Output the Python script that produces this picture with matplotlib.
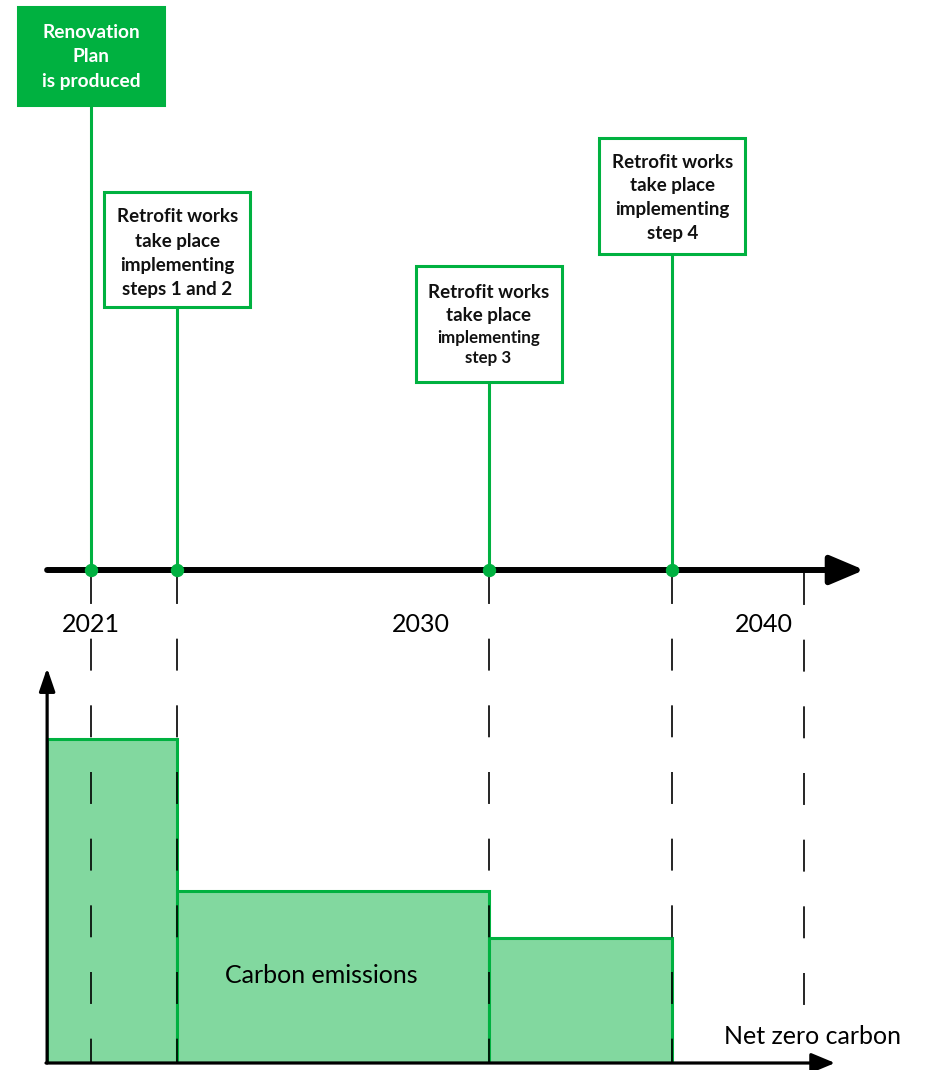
import matplotlib
matplotlib.use("Agg")
import matplotlib.pyplot as plt
from matplotlib.patches import Rectangle

plt.rcParams['font.family'] = ['Lato', 'DejaVu Sans']
plt.rcParams['lines.scale_dashes'] = False

# data
event_years = [2021, 2023.3, 2031.6, 2036.5]
event_labels = [
    ["Renovation", "Plan", "is produced"],
    ["Retrofit works", "take place", "implementing", "steps 1 and 2"],
    ["Retrofit works", "take place", "implementing", "step 3"],
    ["Retrofit works", "take place", "implementing", "step 4"],
]
tick_years = [2021, 2030, 2040]
tick_labels = ["2021", "2030", "2040"]
net_zero_year = 2040
period_start = [2019.83, 2023.3, 2031.6]
period_end = [2023.3, 2031.6, 2036.5]
emissions = [100, 53, 38.6]

GREEN = '#00b140'
BAR_FILL = '#82d89f'

# layout (pixels, 37.5 px per year, 2021 at x=91)
PX_YEAR = 37.5
XMIN = 2021 - 91 / PX_YEAR
XMAX = XMIN + 926 / PX_YEAR
TIMELINE_Y = 570
AXIS_X = period_start[0]

box_w = 146 / PX_YEAR
box_top = [7, 192, 266, 138]
box_h = [98, 115, 116, 116]
line_y = [[33, 57, 81], [217, 241, 265, 289], [292, 316, 338, 358], [162, 186, 210, 234]]
line_size = [[13.8] * 3, [13.5] * 4, [13.5, 13.5, 12.2, 12.2], [13.5] * 4]
tick_offset_px = [0, -8, -40]

fig = plt.figure(figsize=(9.26, 10.70), dpi=100)

# bottom chart: carbon emissions
ax_bar = fig.add_axes([0, 7 / 1070, 1, 395 / 1070])
ax_bar.set_xlim(XMIN, XMAX)
ax_bar.set_ylim(0, 395 / 324 * 100)
ax_bar.axis('off')
widths = [e - s for s, e in zip(period_start, period_end)]
ax_bar.bar(period_start, emissions, width=widths, align='edge',
           color=BAR_FILL, edgecolor=GREEN, linewidth=2.2)
ax_bar.annotate('', xy=(AXIS_X, ax_bar.get_ylim()[1]), xytext=(AXIS_X, 0),
                arrowprops=dict(arrowstyle='-|>,head_length=0.35,head_width=0.12',
                                mutation_scale=40, lw=2.3, color='black',
                                shrinkA=0, shrinkB=0))
ax_bar.annotate('', xy=(2040.84, 0), xytext=(AXIS_X - 0.03, 0),
                arrowprops=dict(arrowstyle='-|>,head_length=0.36,head_width=0.15',
                                mutation_scale=40, lw=2.3, color='black',
                                shrinkA=0, shrinkB=0))
ax_bar.text(sum([period_start[1], period_end[1]]) / 2 - 12 / PX_YEAR, emissions[1] * 0.51,
            "Carbon emissions", ha='center', va='center', fontsize=18)

# overlay: timeline, boxes, dashed guides
ax = fig.add_axes([0, 0, 1, 1])
ax.set_xlim(XMIN, XMAX)
ax.set_ylim(1070, 0)
ax.axis('off')
ax.patch.set_alpha(0)

for x in event_years:
    ax.plot([x, x], [TIMELINE_Y + 2, 1063], color='black', lw=1.2,
            linestyle=(0, (23, 25)))
ax.plot([net_zero_year, net_zero_year], [TIMELINE_Y + 3, 1012], color='black', lw=1.2,
        linestyle=(0, (23, 25)))

ax.annotate('', xy=(2041.62, TIMELINE_Y), xytext=(AXIS_X, TIMELINE_Y),
            arrowprops=dict(arrowstyle='-|>,head_length=0.52,head_width=0.22',
                            mutation_scale=40, lw=4.3, color='black',
                            shrinkA=0, shrinkB=0))

for i, x in enumerate(event_years):
    top = box_top[i]
    h = box_h[i]
    ax.plot([x, x], [top + h, TIMELINE_Y], color=GREEN, lw=2.2, zorder=3)
    filled = i == 0
    ax.add_patch(Rectangle((x - box_w / 2, top), box_w, h,
                           facecolor=GREEN if filled else 'white',
                           edgecolor=GREEN, lw=2.2, zorder=4))
    for txt, y, fs in zip(event_labels[i], line_y[i], line_size[i]):
        ax.text(x, y, txt, ha='center', va='center', fontsize=fs, fontweight='bold',
                color='white' if filled else '#111111', zorder=5)

ax.plot(event_years, [TIMELINE_Y] * len(event_years), 'o', color=GREEN, ms=8.6, zorder=6)

for yr, lab, off in zip(tick_years, tick_labels, tick_offset_px):
    ax.annotate(lab, xy=(yr, 625), xytext=(off * 0.72, 0), textcoords='offset points',
                ha='center', va='center', fontsize=18)

ax.text(net_zero_year + 9 / PX_YEAR, 1037, "Net zero carbon", ha='center', va='center',
        fontsize=18)

fig.savefig('out.png', dpi=100)
